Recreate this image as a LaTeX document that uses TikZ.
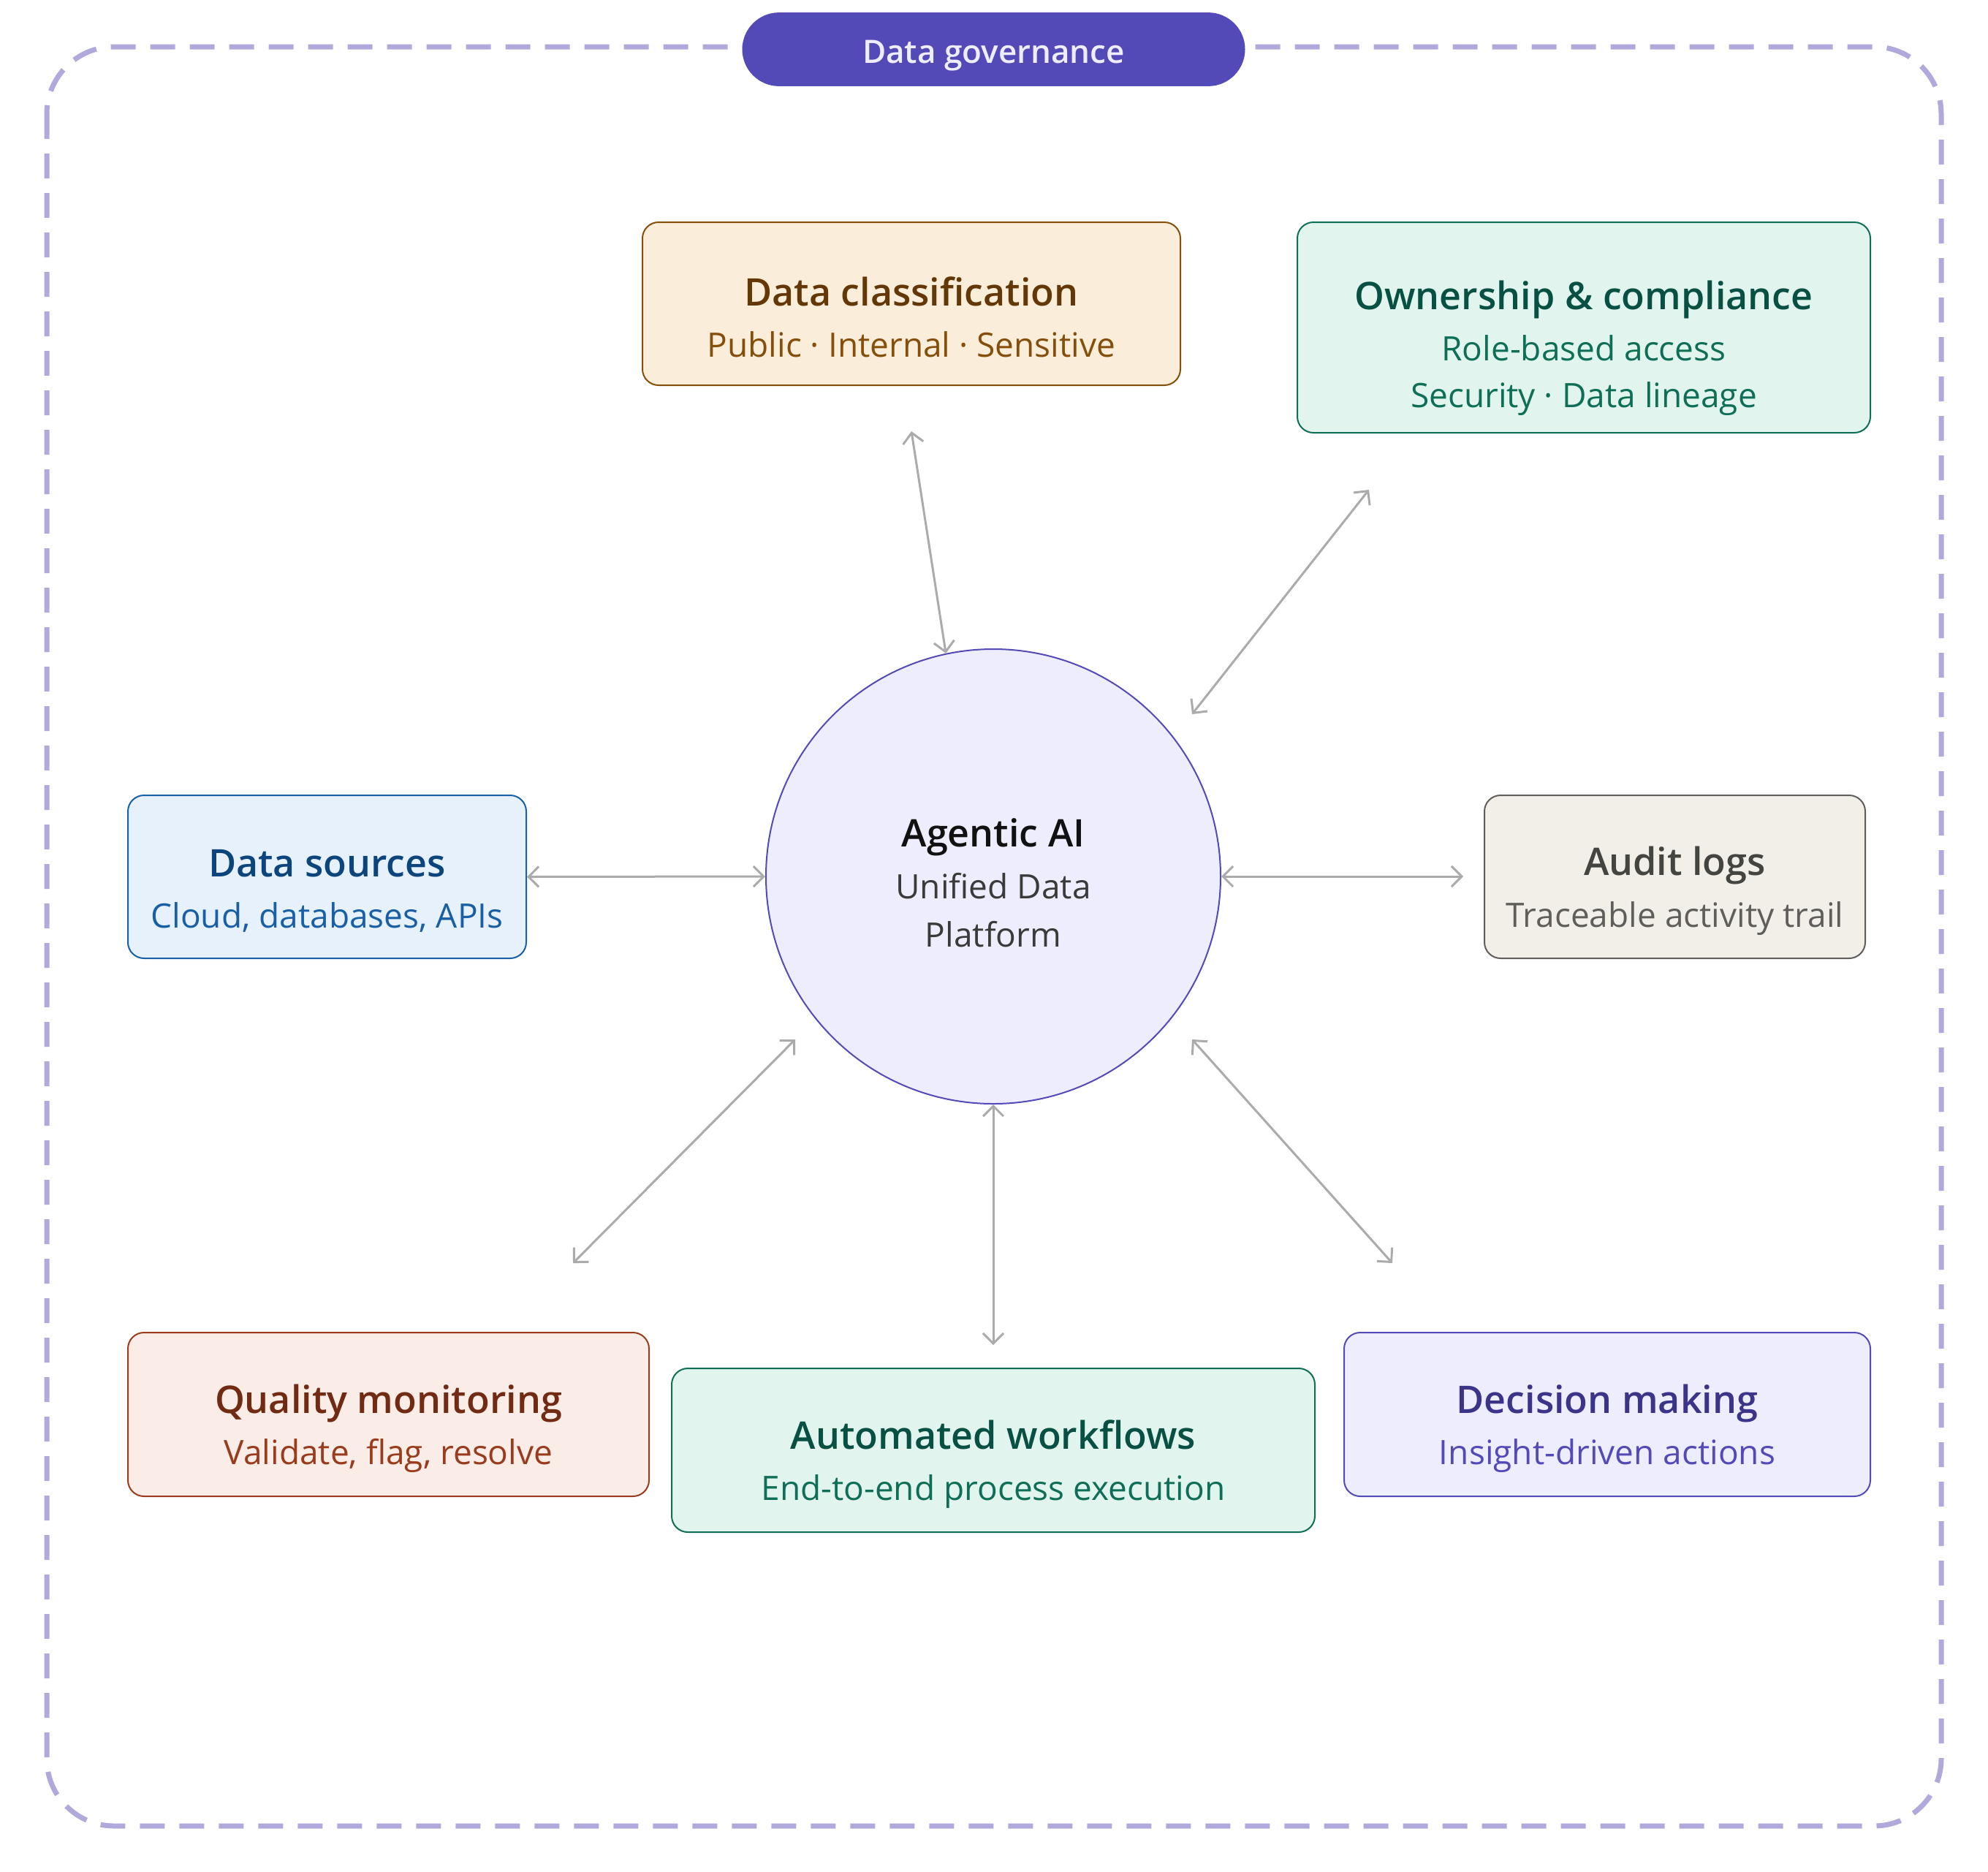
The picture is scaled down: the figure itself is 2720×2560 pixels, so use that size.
\documentclass[tikz,border=0pt]{standalone}
\usepackage{fontspec}
\setmainfont{Open Sans}[BoldFont={Open Sans Semibold}]
\usetikzlibrary{arrows.meta}
\definecolor{frame}{HTML}{AFA9DC}
\definecolor{pill}{HTML}{534AB7}
\definecolor{pilltxt}{HTML}{EEEDFE}
\definecolor{hubfill}{HTML}{EEEDFE}
\definecolor{hubdraw}{HTML}{534AB7}
\definecolor{arrowc}{HTML}{ABABAB}
\definecolor{amfill}{HTML}{FAEEDA}\definecolor{amdraw}{HTML}{854F0B}\definecolor{amtitle}{HTML}{633806}\definecolor{amsub}{HTML}{854F0B}
\definecolor{tefill}{HTML}{E1F5EE}\definecolor{tedraw}{HTML}{0F6E56}\definecolor{tetitle}{HTML}{085041}\definecolor{tesub}{HTML}{0F6E56}
\definecolor{blfill}{HTML}{E6F1FB}\definecolor{bldraw}{HTML}{185FA5}\definecolor{bltitle}{HTML}{0C447C}\definecolor{blsub}{HTML}{185FA5}
\definecolor{grfill}{HTML}{F1EFE8}\definecolor{grdraw}{HTML}{5F5E5A}\definecolor{grtitle}{HTML}{444441}\definecolor{grsub}{HTML}{5F5E5A}
\definecolor{cofill}{HTML}{FAECE7}\definecolor{codraw}{HTML}{993C1D}\definecolor{cotitle}{HTML}{712B13}\definecolor{cosub}{HTML}{993C1D}
\definecolor{pufill}{HTML}{EEEDFE}\definecolor{pudraw}{HTML}{534AB7}\definecolor{putitle}{HTML}{3C3489}\definecolor{pusub}{HTML}{534AB7}
\newcommand{\ttl}[2]{{\color{#1}\fontsize{13pt}{16pt}\selectfont\bfseries #2}}
\newcommand{\sbt}[2]{{\color{#1}\fontsize{11.5pt}{16pt}\selectfont #2}}
\begin{document}
\begin{tikzpicture}[x=0.25pt,y=-0.25pt,
  box/.style={draw, rounded corners=5.5pt, line width=0.5pt, inner sep=0pt},
  txt/.style={align=center, inner sep=0pt, font=\fontsize{11.5pt}{16pt}\selectfont},
  link/.style={draw=arrowc, line width=0.75pt,
    {Straight Barb[length=3.5pt,width=7pt]}-{Straight Barb[length=3.5pt,width=7pt]}},
  hubstyle/.style={circle, draw=hubdraw, fill=hubfill, line width=0.5pt,
    minimum size=155.5pt, inner sep=0pt}]
\useasboundingbox (0,0) rectangle (2720,2560);
% governance frame
\draw[frame, line width=1.75pt, dash pattern=on 8.5pt off 5pt, rounded corners=23pt]
  (64,64) rectangle (2656,2498);
\node[fill=pill, rounded corners=12.6pt, minimum width=172pt, minimum height=25.2pt,
  inner sep=0pt, text=pilltxt, text height=9.6pt, text depth=0pt,
  font=\fontsize{11pt}{13pt}\selectfont\bfseries]
  (gov) at (1359.5,67.5) {Data governance};
% hub
\node[hubstyle] (hub) at (1359,1199) {};
\node[txt, font=\fontsize{11.5pt}{16.5pt}\selectfont, yshift=-2.2pt] (hubt) at (hub.center)
  {{\color[HTML]{111111}\fontsize{13pt}{16pt}\selectfont\bfseries Agentic AI}\\[1.3pt]
   {\color[HTML]{3A3A3A}Unified Data}\\
   {\color[HTML]{3A3A3A}Platform}};
% boxes
\node[box, fill=amfill, draw=amdraw, minimum width=184pt, minimum height=55.75pt]
  (dc) at (1247,415.5) {};
\node[txt, yshift=-4.6pt] (dct) at (dc.center)
  {\ttl{amtitle}{Data classification}\\[1.6pt]\sbt{amsub}{Public · Internal · Sensitive}};
\node[box, fill=tefill, draw=tedraw, minimum width=196pt, minimum height=72pt]
  (oc) at (2167,448) {};
\node[txt, yshift=-7pt] (oct) at (oc.center)
  {\ttl{tetitle}{Ownership \& compliance}\\[1.6pt]\sbt{tesub}{Role-based access}\\\sbt{tesub}{Security · Data lineage}};
\node[box, fill=blfill, draw=bldraw, minimum width=136.25pt, minimum height=55.75pt]
  (ds) at (447.5,1199.5) {};
\node[txt, yshift=-4.8pt] (dst) at (ds.center)
  {\ttl{bltitle}{Data sources}\\[1.6pt]\sbt{blsub}{Cloud, databases, APIs}};
\node[box, fill=grfill, draw=grdraw, minimum width=130.25pt, minimum height=55.75pt]
  (al) at (2291.5,1199.5) {};
\node[txt, yshift=-4.8pt] (alt) at (al.center)
  {\ttl{grtitle}{Audit logs}\\[1.6pt]\sbt{grsub}{Traceable activity trail}};
\node[box, fill=cofill, draw=codraw, minimum width=178.25pt, minimum height=56pt]
  (qm) at (531.5,1935) {};
\node[txt, yshift=-4.8pt] (qmt) at (qm.center)
  {\ttl{cotitle}{Quality monitoring}\\[1.6pt]\sbt{cosub}{Validate, flag, resolve}};
\node[box, fill=tefill, draw=tedraw, minimum width=220pt, minimum height=56pt]
  (aw) at (1359,1984) {};
\node[txt, yshift=-4.8pt] (awt) at (aw.center)
  {\ttl{tetitle}{Automated workflows}\\[1.6pt]\sbt{tesub}{End-to-end process execution}};
\node[box, fill=pufill, draw=pudraw, minimum width=180pt, minimum height=56pt]
  (dm) at (2199,1935) {};
\node[txt, yshift=-4.8pt] (dmt) at (dm.center)
  {\ttl{putitle}{Decision making}\\[1.6pt]\sbt{pusub}{Insight-driven actions}};
% free arrow ends
\coordinate (dcend) at (1247,590);
\coordinate (ocend) at (1873,670);
\coordinate (ochub) at (1631,977);
\coordinate (alend) at (2002,1199);
\coordinate (qmhub) at (1088,1422);
\coordinate (qmend) at (784,1728);
\coordinate (awend) at (1359,1840);
\coordinate (dmhub) at (1631,1422);
\coordinate (dmend) at (1905,1728);
% connectors
\draw[link] (dcend) -- (hub.102);
\draw[link] (ocend) -- (ochub);
\draw[link] (ds.east) -- (hub.west);
\draw[link] (hub.east) -- (alend);
\draw[link] (qmhub) -- (qmend);
\draw[link] (hub.south) -- (awend);
\draw[link] (dmhub) -- (dmend);
\end{tikzpicture}
\end{document}
